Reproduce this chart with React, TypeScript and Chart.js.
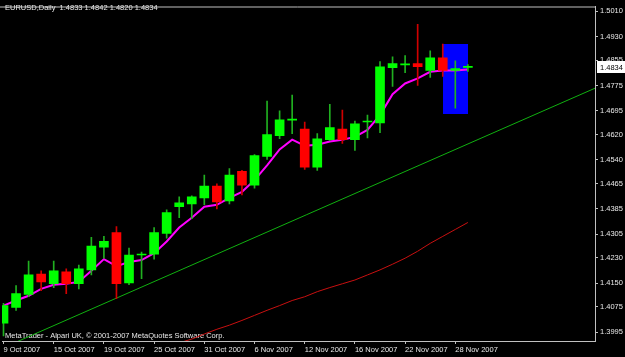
import React, { useEffect, useRef } from 'react';
import { Chart, registerables } from 'chart.js';
Chart.register(...registerables);

const symbol = 'EURUSD';
const period = 'Daily';
const footerText = 'MetaTrader - Alpari UK, \u00a9 2001-2007 MetaQuotes Software Corp.';

const dates = [
  '9 Oct 2007', '10 Oct 2007', '11 Oct 2007', '12 Oct 2007', '15 Oct 2007', '16 Oct 2007', '17 Oct 2007', '18 Oct 2007',
  '19 Oct 2007', '22 Oct 2007', '23 Oct 2007', '24 Oct 2007', '25 Oct 2007', '26 Oct 2007', '29 Oct 2007', '30 Oct 2007',
  '31 Oct 2007', '1 Nov 2007', '2 Nov 2007', '5 Nov 2007', '6 Nov 2007', '7 Nov 2007', '8 Nov 2007', '9 Nov 2007',
  '12 Nov 2007', '13 Nov 2007', '14 Nov 2007', '15 Nov 2007', '16 Nov 2007', '19 Nov 2007', '20 Nov 2007', '21 Nov 2007',
  '22 Nov 2007', '23 Nov 2007', '26 Nov 2007', '27 Nov 2007', '28 Nov 2007', '29 Nov 2007',
];

const opens = [1.4023, 1.4073, 1.4114, 1.4179, 1.4148, 1.4186, 1.4148, 1.4192, 1.4264, 1.4310, 1.4151, 1.4239, 1.4242, 1.4307, 1.4392, 1.4401, 1.4420, 1.4457, 1.4410, 1.4504, 1.4460, 1.4551, 1.4617, 1.4666, 1.4638, 1.4517, 1.4604, 1.4638, 1.4604, 1.4660, 1.4657, 1.4832, 1.4841, 1.4845, 1.4823, 1.4863, 1.4823, 1.4833];
const highs = [1.4086, 1.4142, 1.4220, 1.4189, 1.4220, 1.4195, 1.4207, 1.4295, 1.4298, 1.4329, 1.4261, 1.4248, 1.4326, 1.4382, 1.4423, 1.4426, 1.4492, 1.4464, 1.4513, 1.4507, 1.4557, 1.4726, 1.4695, 1.4745, 1.4660, 1.4623, 1.4716, 1.4698, 1.4663, 1.4682, 1.4851, 1.4866, 1.4870, 1.4969, 1.4885, 1.4907, 1.4854, 1.4842];
const lows = [1.3983, 1.4064, 1.4107, 1.4126, 1.4136, 1.4117, 1.4132, 1.4176, 1.4229, 1.4101, 1.4145, 1.4164, 1.4226, 1.4292, 1.4357, 1.4354, 1.4398, 1.4385, 1.4401, 1.4429, 1.4451, 1.4542, 1.4607, 1.4623, 1.4510, 1.4507, 1.4601, 1.4592, 1.4570, 1.4610, 1.4626, 1.4773, 1.4816, 1.4776, 1.4801, 1.4804, 1.4704, 1.4820];
const closes = [1.4079, 1.4117, 1.4176, 1.4154, 1.4189, 1.4148, 1.4195, 1.4267, 1.4282, 1.4148, 1.4239, 1.4242, 1.4310, 1.4373, 1.4404, 1.4423, 1.4457, 1.4407, 1.4492, 1.4460, 1.4554, 1.4620, 1.4667, 1.4667, 1.4517, 1.4607, 1.4642, 1.4604, 1.4654, 1.4661, 1.4835, 1.4845, 1.4842, 1.4835, 1.4863, 1.4823, 1.4829, 1.4834];

const fastMa = [1.4079, 1.4095, 1.4110, 1.4132, 1.4145, 1.4148, 1.4154, 1.4189, 1.4226, 1.4204, 1.4217, 1.4223, 1.4245, 1.4282, 1.4326, 1.4357, 1.4392, 1.4398, 1.4420, 1.4439, 1.4476, 1.4523, 1.4573, 1.4604, 1.4585, 1.4588, 1.4598, 1.4604, 1.4613, 1.4635, 1.4682, 1.4748, 1.4782, 1.4798, 1.4819, 1.4823, 1.4823, 1.4826];

const slowMaStart = 13;
const slowMa = [1.3948, 1.3961, 1.3973, 1.3989, 1.4004, 1.4017, 1.4032, 1.4048, 1.4064, 1.4079, 1.4095, 1.4107, 1.4123, 1.4136, 1.4148, 1.4160, 1.4176, 1.4192, 1.4210, 1.4229, 1.4251, 1.4276, 1.4298, 1.4320, 1.4342];

const trendX = [-2, 50];
const trendY = [1.3911, 1.4817];

const boxX = [35, 37];
const boxY = [1.4907, 1.4685];

const yTicks = [1.5010, 1.4930, 1.4855, 1.4775, 1.4695, 1.4620, 1.4540, 1.4465, 1.4385, 1.4305, 1.4230, 1.4150, 1.4075, 1.3995];
const xTicks = [0, 4, 8, 12, 16, 20, 24, 28, 32, 36];

const FONT = "'Liberation Sans', sans-serif";
const FSIZE = 7.5;
const TEXT = '#e8e8e8';
const AXIS = '#c0c0c0';

export default function App() {
  const ref = useRef<HTMLCanvasElement>(null);
  useEffect(() => {
    const canvas = ref.current!;
    const idx = closes.map((_, i) => i);
    const bull = idx.map((i) => closes[i] >= opens[i]);
    const last = closes.length - 1;

    const bgPlugin = {
      id: 'bg',
      beforeDraw(chart: any) {
        const { ctx, width, height } = chart;
        ctx.save();
        ctx.fillStyle = '#000000';
        ctx.fillRect(0, 0, width, height);
        ctx.restore();
      },
    };

    const overlay = {
      id: 'overlay',
      beforeDatasetsDraw(chart: any) {
        const { ctx, chartArea } = chart;
        const xs = chart.scales.x;
        const ys = chart.scales.y;
        ctx.save();
        ctx.fillStyle = '#0000ff';
        const x1 = xs.getPixelForValue(boxX[0]);
        const x2 = xs.getPixelForValue(boxX[1]);
        const y1 = ys.getPixelForValue(boxY[0]);
        const y2 = ys.getPixelForValue(boxY[1]);
        ctx.fillRect(Math.round(x1), Math.round(y1), Math.round(x2 - x1), Math.round(y2 - y1));
        ctx.strokeStyle = AXIS;
        ctx.lineWidth = 1;
        ctx.beginPath();
        ctx.moveTo(0, chartArea.top + 0.5);
        ctx.lineTo(chartArea.right, chartArea.top + 0.5);
        ctx.stroke();
        ctx.fillStyle = TEXT;
        ctx.font = `${FSIZE}px ${FONT}`;
        ctx.textBaseline = 'middle';
        ctx.textAlign = 'left';
        const f = (v: number) => v.toFixed(4);
        ctx.fillText(`${symbol},${period}  ${f(opens[last])} ${f(highs[last])} ${f(lows[last])} ${f(closes[last])}`, 5, 8);
        ctx.fillText(footerText, 5, chartArea.bottom - 5);
        ctx.restore();
      },
      afterDraw(chart: any) {
        const { ctx, chartArea, width } = chart;
        const ys = chart.scales.y;
        const yp = Math.round(ys.getPixelForValue(closes[last]));
        ctx.save();
        ctx.fillStyle = '#ffffff';
        ctx.fillRect(chartArea.right + 2, yp - 6, width - chartArea.right - 2, 12);
        ctx.fillStyle = '#000000';
        ctx.font = `${FSIZE}px ${FONT}`;
        ctx.textBaseline = 'middle';
        ctx.textAlign = 'left';
        ctx.fillText(closes[last].toFixed(4), chartArea.right + 5, yp + 0.5);
        ctx.restore();
      },
    };

    const chart = new Chart(canvas, {
      type: 'bar',
      data: {
        datasets: [
          {
            type: 'line',
            label: 'slow MA',
            data: slowMa.map((v, k) => ({ x: slowMaStart + k, y: v })),
            borderColor: '#c81010',
            borderWidth: 1,
            pointRadius: 0,
            order: 6,
          } as any,
          {
            type: 'line',
            label: 'trend',
            data: trendX.map((x, k) => ({ x, y: trendY[k] })),
            borderColor: '#10b010',
            borderWidth: 1,
            pointRadius: 0,
            order: 6,
          } as any,
          {
            type: 'line',
            label: 'fast MA',
            data: fastMa.map((v, i) => ({ x: i, y: v })),
            borderColor: '#ff00ff',
            borderWidth: 2,
            pointRadius: 0,
            order: 5,
          } as any,
          {
            type: 'bar',
            label: 'wicks',
            data: idx.map((i) => ({ x: i, y: [lows[i], highs[i]] })),
            backgroundColor: idx.map((i) => (bull[i] ? '#20b020' : '#d00000')),
            barThickness: 1,
            grouped: false,
            order: 2,
          } as any,
          {
            type: 'bar',
            label: 'bodies',
            data: idx.map((i) => ({ x: i, y: [opens[i], closes[i]] })),
            backgroundColor: idx.map((i) => (bull[i] ? '#00ff00' : '#ff0000')),
            barThickness: 9,
            minBarLength: 1,
            grouped: false,
            order: 1,
          } as any,
        ],
      },
      options: {
        responsive: false,
        animation: false,
        events: [],
        layout: { padding: { top: 2, left: 2, right: 0, bottom: 0 } },
        plugins: { legend: { display: false }, tooltip: { enabled: false }, title: { display: false } },
        scales: {
          x: {
            type: 'linear',
            position: 'bottom',
            min: -0.12,
            max: 47.13,
            offset: false,
            bounds: 'data',
            grid: { display: true, drawOnChartArea: false, drawTicks: true, tickLength: 3, color: AXIS, offset: false },
            border: { display: true, color: AXIS, width: 1 },
            ticks: {
              autoSkip: false,
              maxRotation: 0,
              align: 'start',
              padding: 1,
              color: TEXT,
              font: { family: FONT, size: FSIZE },
              callback: (v: any) => dates[Math.round(Number(v))] ?? '',
            },
            afterBuildTicks: (s: any) => {
              s.ticks = xTicks.map((v) => ({ value: v }));
            },
            afterFit: (s: any) => {
              s.height = 16;
            },
          },
          y: {
            type: 'linear',
            position: 'right',
            min: 1.39669,
            max: 1.50256,
            bounds: 'data',
            grid: { display: true, drawOnChartArea: false, drawTicks: true, tickLength: 3, color: AXIS },
            border: { display: true, color: AXIS, width: 1 },
            ticks: {
              autoSkip: false,
              padding: 2,
              color: TEXT,
              font: { family: FONT, size: FSIZE },
              callback: (v: any) => Number(v).toFixed(4),
            },
            afterBuildTicks: (s: any) => {
              s.ticks = yTicks.map((v) => ({ value: v }));
            },
            afterFit: (s: any) => {
              s.width = 30;
            },
          },
        },
      } as any,
      plugins: [bgPlugin, overlay],
    });
    return () => chart.destroy();
  }, []);

  return (
    <div style={{ position: 'fixed', left: 0, top: 0, width: 625, height: 357, background: '#000' }}>
      <canvas ref={ref} width={625} height={357} style={{ display: 'block', width: 625, height: 357 }} />
    </div>
  );
}
